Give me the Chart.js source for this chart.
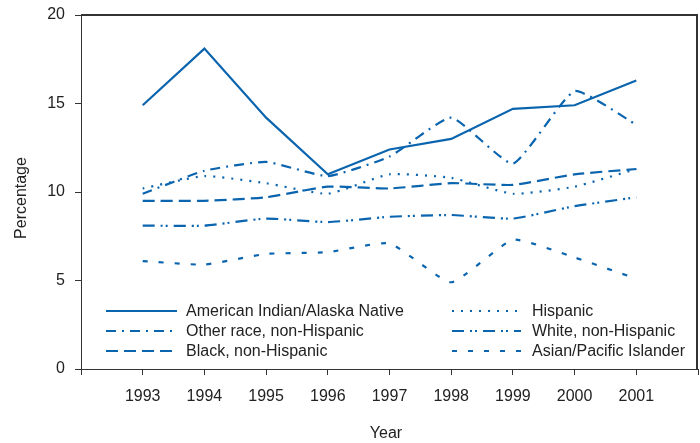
<!DOCTYPE html>
<html>
<head>
<meta charset="utf-8">
<script src="https://cdn.jsdelivr.net/npm/chart.js@4/dist/chart.umd.min.js"></script>
<style>
  html, body { margin: 0; padding: 0; background: #fff; }
  #wrap { width: 700px; height: 443px; position: relative; }
</style>
</head>
<body>
<div id="wrap"><canvas id="trendChart"></canvas></div>
<script>
// values
const years = [1993, 1994, 1995, 1996, 1997, 1998, 1999, 2000, 2001];
const americanIndian = [14.9, 18.1, 14.2, 11.0, 12.4, 13.0, 14.7, 14.9, 16.3];
const otherRace = [9.9, 11.2, 11.7, 10.9, 12.0, 14.2, 11.6, 15.7, 13.8];
const black = [9.5, 9.5, 9.7, 10.3, 10.2, 10.5, 10.4, 11.0, 11.3];
const hispanic = [10.2, 10.9, 10.5, 9.9, 11.0, 10.8, 9.9, 10.3, 11.3];
const white = [8.1, 8.1, 8.5, 8.3, 8.6, 8.7, 8.5, 9.2, 9.7];
const asian = [6.1, 5.9, 6.5, 6.6, 7.1, 4.9, 7.3, 6.3, 5.1];
const yTicks = [0, 5, 10, 15, 20];

const BLUE = '#0a64ae';
const FONT = '"Liberation Sans", Arial, sans-serif';
const TEXT = '#222';
const AXIS = '#333';

const series = [
    { label: 'American Indian/Alaska Native', data: americanIndian, dash: [], tension: 0, col: 0 },
    { label: 'Other race, non-Hispanic', data: otherRace, dash: [10, 6, 2, 6], tension: 0.15, col: 0 },
    { label: 'Black, non-Hispanic', data: black, dash: [12, 6], tension: 0.15, col: 0 },
    { label: 'Hispanic', data: hispanic, dash: [2, 7], tension: 0.15, col: 1 },
    { label: 'White, non-Hispanic', data: white, dash: [12, 6, 2, 3, 2, 6], tension: 0.15, col: 1 },
    { label: 'Asian/Pacific Islander', data: asian, dash: [5, 11], tension: 0.15, col: 1 }
];

// box, in-plot legend and axis titles
const extrasPlugin = {
    id: 'extras',
    afterDraw(chart) {
        const ctx = chart.ctx;
        const xs = chart.scales.x;
        const ys = chart.scales.y;
        ctx.save();

        // top and right sides of the box
        ctx.fillStyle = AXIS;
        ctx.fillRect(xs.left, ys.top - 1, xs.right - xs.left, 2);
        ctx.fillRect(xs.right - 2, ys.top - 1, 2, ys.bottom - ys.top + 1);

        // legend, two columns inside the plot
        const colX = [[106, 177, 186], [452, 521, 532]];
        const rowY = [311, 331, 351];
        const rowCount = [0, 0];
        ctx.font = '16px ' + FONT;
        ctx.textBaseline = 'middle';
        ctx.textAlign = 'left';
        series.forEach(s => {
            const c = colX[s.col];
            const y = rowY[rowCount[s.col]++];
            ctx.strokeStyle = BLUE;
            ctx.lineWidth = 2.2;
            ctx.setLineDash(s.dash);
            ctx.beginPath();
            ctx.moveTo(c[0], y);
            ctx.lineTo(c[1], y);
            ctx.stroke();
            ctx.setLineDash([]);
            ctx.fillStyle = TEXT;
            ctx.fillText(s.label, c[2], y + 1);
        });

        // axis titles
        ctx.fillStyle = TEXT;
        ctx.textAlign = 'center';
        ctx.fillText('Year', 386, 434);
        ctx.translate(22, 198);
        ctx.rotate(-Math.PI / 2);
        ctx.fillText('Percentage', 0, 0);
        ctx.restore();
    }
};

function initChart() {
    const ctx = document.getElementById('trendChart').getContext('2d');

    const datasets = series.map(s => ({
        label: s.label,
        data: years.map((yr, i) => ({ x: yr, y: s.data[i] })),
        borderColor: BLUE,
        backgroundColor: BLUE,
        borderWidth: 2.2,
        borderDash: s.dash,
        tension: s.tension,
        pointRadius: 0,
        fill: false
    }));

    new Chart(ctx, {
        type: 'line',
        data: { datasets: datasets },
        options: {
            responsive: true,
            maintainAspectRatio: false,
            animation: false,
            layout: { padding: { top: 15, right: 2, left: 0, bottom: 0 } },
            plugins: {
                legend: { display: false },
                tooltip: { enabled: false }
            },
            scales: {
                x: {
                    type: 'linear',
                    min: years[0] - 1,
                    max: years[years.length - 1] + 1,
                    afterBuildTicks: axis => {
                        axis.ticks = [years[0] - 1].concat(years, [years[years.length - 1] + 1]).map(v => ({ value: v }));
                    },
                    afterFit: axis => {
                        axis.height = 74;
                        axis.paddingLeft = 0;
                        axis.paddingRight = 0;
                    },
                    border: { color: AXIS, width: 1 },
                    grid: { drawOnChartArea: false, drawTicks: true, tickLength: 6, color: AXIS },
                    ticks: {
                        padding: 12,
                        color: TEXT,
                        font: { family: FONT, size: 16 },
                        maxRotation: 0,
                        callback: v => years.includes(v) ? String(v) : ''
                    }
                },
                y: {
                    min: yTicks[0],
                    max: yTicks[yTicks.length - 1],
                    afterBuildTicks: axis => {
                        axis.ticks = yTicks.map(v => ({ value: v }));
                    },
                    afterFit: axis => {
                        axis.width = 81;
                        axis.paddingTop = 0;
                        axis.paddingBottom = 0;
                    },
                    border: { color: AXIS, width: 1 },
                    grid: { drawOnChartArea: false, drawTicks: true, tickLength: 6, color: AXIS },
                    ticks: {
                        padding: 10,
                        color: TEXT,
                        font: { family: FONT, size: 16 }
                    }
                }
            }
        },
        plugins: [extrasPlugin]
    });
}

initChart();
</script>
</body>
</html>
